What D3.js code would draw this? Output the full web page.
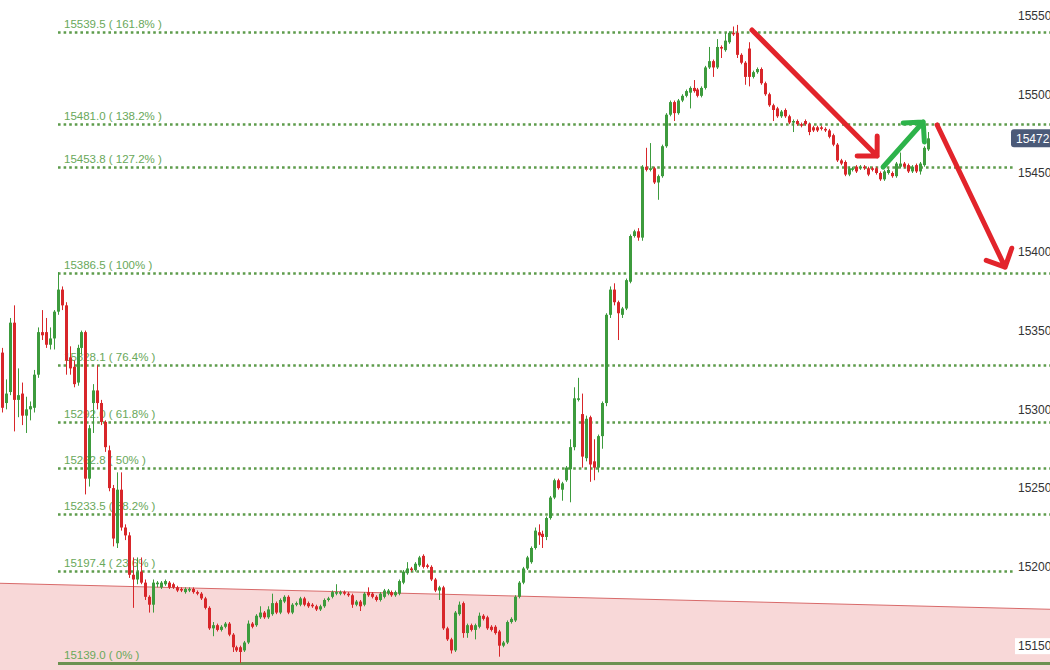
<!DOCTYPE html>
<html>
<head>
<meta charset="utf-8">
<script src="https://cdn.jsdelivr.net/npm/d3@7"></script>
<style>
  body { margin: 0; background: #fff; }
  svg { display: block; font-family: "Liberation Sans", Arial, sans-serif; }
</style>
</head>
<body>
<svg id="chart" width="1050" height="670"></svg>
<script>
// candles, oldest first
const opens = [
  15336,15304,15311,15355,15306,15310,15296,15300,15301,15322,
  15349,15349,15341,15345,15362,15376,15366,15333,15327,15317,
  15339,15349,15256,15304,15312,15304,15292,15274,15250,15215,
  15249,15225,15220,15195,15192,15197,15190,15181,15176,15189,
  15187,15189,15190,15189,15187,15186,15184,15185,15186,15184,
  15183,15180,15174,15161,15163,15160,15162,15164,15157,15149,
  15149,15147,15152,15164,15163,15168,15171,15168,15170,15177,
  15171,15178,15181,15171,15176,15176,15180,15177,15176,15175,
  15173,15175,15179,15181,15183,15183,15184,15183,15182,15176,
  15178,15176,15184,15183,15181,15179,15181,15183,15184,15182,
  15183,15190,15196,15199,15198,15201,15207,15201,15200,15192,
  15185,15187,15161,15154,15147,15170,15177,15158,15163,15160,
  15162,15169,15168,15162,15162,15159,15150,15152,15165,15166,
  15181,15190,15199,15203,15212,15222,15221,15219,15231,15244,
  15255,15249,15255,15262,15276,15306,15297,15269,15295,15267,
  15263,15283,15304,15360,15376,15368,15360,15364,15381,15410,
  15413,15409,15454,15452,15453,15444,15448,15467,15487,15495,
  15488,15496,15499,15501,15504,15503,15499,15504,15517,15521,
  15517,15530,15528,15533,15539,15539,15525,15520,15529,15511,
  15514,15516,15507,15500,15493,15491,15486,15490,15486,15482,
  15483,15481,15483,15481,15479,15479,15479,15478,15477,15474,
  15468,15458,15457,15449,15452,15454,15453,15454,15453,15453,
  15453,15450,15446,15450,15450,15448,15454,15456,15455,15451,
  15455,15451,15455,15465
]
const highs = [
  15339,15319,15358,15366,15326,15317,15308,15305,15325,15352,
  15363,15358,15352,15363,15387,15378,15368,15340,15331,15341,
  15350,15350,15290,15316,15328,15306,15293,15277,15252,15260,
  15260,15227,15222,15206,15206,15206,15192,15182,15192,15191,
  15191,15192,15191,15190,15188,15187,15187,15187,15187,15185,
  15184,15181,15175,15165,15164,15163,15165,15165,15158,15150,
  15150,15153,15166,15165,15170,15175,15172,15175,15183,15178,
  15180,15182,15182,15177,15178,15181,15181,15178,15177,15176,
  15176,15180,15181,15185,15189,15185,15185,15184,15183,15179,
  15179,15184,15187,15184,15182,15184,15186,15186,15185,15185,
  15192,15198,15203,15200,15203,15207,15208,15202,15201,15193,
  15188,15188,15162,15155,15172,15178,15178,15164,15164,15164,
  15171,15170,15169,15163,15163,15160,15153,15166,15168,15182,
  15191,15200,15207,15213,15225,15227,15223,15232,15245,15256,
  15256,15254,15264,15281,15314,15320,15310,15296,15296,15281,
  15284,15305,15361,15378,15380,15369,15365,15383,15411,15414,
  15415,15455,15466,15469,15454,15449,15468,15488,15496,15496,
  15497,15500,15503,15505,15509,15504,15505,15518,15530,15522,
  15535,15531,15539,15540,15543,15544,15526,15521,15533,15515,
  15517,15517,15508,15501,15494,15492,15490,15491,15487,15484,
  15484,15482,15484,15482,15480,15480,15480,15479,15478,15475,
  15469,15459,15458,15454,15454,15455,15455,15455,15454,15454,
  15454,15451,15452,15453,15451,15457,15463,15457,15456,15455,
  15456,15457,15467,15476
]
const lows = [
  15298,15300,15309,15286,15295,15290,15285,15293,15298,15320,
  15344,15339,15338,15338,15360,15363,15322,15322,15314,15315,
  15335,15246,15251,15285,15300,15290,15273,15248,15213,15212,
  15223,15217,15193,15174,15189,15189,15179,15171,15171,15187,
  15186,15188,15186,15186,15184,15184,15183,15184,15183,15182,
  15179,15173,15160,15156,15159,15159,15161,15156,15146,15146,
  15139,15146,15151,15161,15162,15167,15167,15167,15169,15170,
  15170,15177,15170,15170,15175,15175,15175,15174,15174,15172,
  15172,15174,15178,15180,15182,15182,15182,15181,15174,15175,
  15172,15175,15181,15180,15178,15178,15180,15182,15181,15181,
  15182,15189,15195,15197,15197,15200,15199,15199,15191,15184,
  15179,15160,15153,15145,15146,15169,15155,15155,15159,15154,
  15161,15166,15160,15159,15157,15143,15149,15151,15164,15165,
  15180,15189,15198,15202,15211,15214,15212,15217,15230,15243,
  15249,15242,15254,15241,15274,15305,15263,15267,15254,15255,
  15260,15275,15302,15358,15366,15344,15358,15363,15380,15409,
  15407,15407,15451,15451,15443,15433,15447,15466,15486,15483,
  15487,15495,15498,15491,15501,15498,15498,15503,15516,15511,
  15516,15523,15527,15532,15537,15523,15519,15506,15505,15510,
  15513,15506,15499,15492,15483,15485,15485,15485,15481,15476,
  15480,15479,15480,15474,15476,15476,15477,15476,15472,15467,
  15457,15455,15448,15448,15451,15450,15452,15452,15448,15451,
  15449,15445,15445,15449,15447,15447,15453,15453,15450,15450,
  15450,15449,15454,15464
]
const closes = [
  15301,15310,15355,15306,15309,15296,15300,15302,15322,15349,
  15347,15341,15345,15362,15376,15366,15331,15326,15316,15339,
  15349,15256,15288,15312,15304,15292,15276,15250,15218,15249,
  15225,15220,15195,15192,15197,15190,15181,15176,15190,15190,
  15190,15191,15187,15187,15185,15185,15186,15186,15184,15183,
  15180,15174,15161,15163,15160,15162,15164,15157,15149,15147,
  15146,15152,15164,15162,15169,15171,15168,15173,15177,15171,
  15179,15181,15171,15176,15177,15180,15176,15175,15175,15173,
  15175,15179,15180,15184,15184,15184,15183,15182,15176,15178,
  15175,15183,15182,15181,15179,15183,15185,15185,15182,15184,
  15191,15197,15199,15198,15202,15206,15200,15200,15192,15185,
  15187,15161,15154,15147,15171,15176,15158,15163,15160,15163,
  15169,15167,15161,15160,15158,15150,15152,15165,15167,15181,
  15190,15199,15206,15212,15223,15220,15219,15231,15244,15255,
  15250,15253,15263,15276,15307,15307,15270,15294,15265,15263,
  15283,15304,15360,15376,15368,15361,15364,15382,15410,15413,
  15409,15454,15452,15453,15444,15448,15467,15487,15495,15488,
  15496,15499,15502,15504,15502,15499,15504,15517,15521,15517,
  15530,15529,15534,15539,15538,15525,15520,15511,15511,15514,
  15516,15507,15500,15493,15490,15486,15489,15486,15482,15483,
  15481,15480,15481,15476,15477,15477,15478,15477,15473,15468,
  15458,15456,15449,15453,15453,15451,15454,15453,15449,15452,
  15450,15446,15451,15452,15448,15456,15456,15454,15451,15454,
  15451,15456,15466,15472
]

// fibonacci levels
const fibPrices = [15539.5, 15481.0, 15453.8, 15386.5, 15328.1, 15292.0, 15262.8, 15233.5, 15197.4, 15139.0]
const fibPcts = ["161.8%", "138.2%", "127.2%", "100%", "76.4%", "61.8%", "50%", "38.2%", "23.6%", "0%"]

// price axis
const axisTicks = [15150, 15200, 15250, 15300, 15350, 15400, 15450, 15500, 15550]
const lastPrice = 15472

// support zone edge: price at left and right border
const zoneEdge = [15189.6, 15173.1]

// hand-drawn arrows in [candle index, price]
const arrowStarts = [[188.7, 15540.8], [221.7, 15453.8], [235.3, 15480.5]]
const arrowEnds = [[220.2, 15460.8], [231.8, 15482.4], [252.4, 15390.3]]
const arrowDirs = ["down", "up", "down"]

const W = 1050, H = 670
const green = "#3d9b3d", red = "#d8262a"
const fibColor = "#5e9c4c", fibText = "#69a85a"

let svg = d3.select("#chart")

let y = d3.scaleLinear().domain([15139, 15539.5]).range([663, 32])
let x = d3.scaleLinear().domain([0, closes.length - 1]).range([2, 928])

let candles = closes.map((c, i) => ({i, o: opens[i], h: highs[i], l: lows[i], c}))

// support zone
let zoneY0 = y(zoneEdge[0]), zoneY1 = y(zoneEdge[1])
svg.append("path")
    .attr("d", `M 0,${zoneY0} L ${W},${zoneY1} L ${W},${H} L 0,${H} z`)
    .attr("fill", "#f8d8d8")
svg.append("line")
    .attr("x1", 0).attr("y1", zoneY0)
    .attr("x2", W).attr("y2", zoneY1)
    .attr("stroke", "#d86a6a")
    .attr("stroke-width", 1)

// fib levels
let fibs = fibPrices.map((p, i) => ({p, pct: fibPcts[i]}))
let fibG = svg.append("g")
fibG.selectAll("line")
    .data(fibs)
    .join("line")
        .attr("x1", 58)
        .attr("x2", W)
        .attr("y1", d => Math.round(y(d.p)) + 0.5)
        .attr("y2", d => Math.round(y(d.p)) + 0.5)
        .attr("stroke-width", d => d.pct == "0%" ? 3 : 2.6)
        .attr("stroke-dasharray", d => d.pct == "0%" ? null : "2.6,3")
        .attr("stroke", d => d.pct == "0%" ? "#6b9150" : fibColor)
fibG.selectAll("text")
    .data(fibs)
    .join("text")
        .attr("x", 64)
        .attr("y", d => y(d.p) - 4)
        .attr("font-size", 11.5)
        .attr("fill", fibText)
        .text(d => `${d.p.toFixed(1)} ( ${d.pct} )`)

// candles
let cg = svg.append("g")
    .selectAll("g")
    .data(candles)
    .join("g")
        .attr("fill", d => d.c >= d.o ? green : red)
        .attr("stroke", d => d.c >= d.o ? green : red)
cg.append("line")
    .attr("x1", d => Math.round(x(d.i)) + 0.5)
    .attr("x2", d => Math.round(x(d.i)) + 0.5)
    .attr("y1", d => y(d.h))
    .attr("y2", d => y(d.l))
    .attr("stroke-width", 1)
cg.append("rect")
    .attr("x", d => Math.round(x(d.i)) - 1)
    .attr("width", 3)
    .attr("y", d => y(Math.max(d.o, d.c)))
    .attr("height", d => Math.max(1, Math.abs(y(d.o) - y(d.c))))
    .attr("stroke", "none")

// arrows
let arrows = arrowStarts.map((s, i) => ({s, e: arrowEnds[i], dir: arrowDirs[i]}))
function arrowPath(d) {
    let x0 = x(d.s[0]), y0 = y(d.s[1]), x1 = x(d.e[0]), y1 = y(d.e[1])
    let ang = Math.atan2(y0 - y1, x0 - x1)
    let len = 20
    let a1 = ang + Math.PI / 4, a2 = ang - Math.PI / 4
    return `M ${x0},${y0} L ${x1},${y1}` +
        ` M ${x1 + len * Math.cos(a1)},${y1 + len * Math.sin(a1)} L ${x1},${y1}` +
        ` L ${x1 + len * Math.cos(a2)},${y1 + len * Math.sin(a2)}`
}
svg.append("g")
    .selectAll("path")
    .data(arrows)
    .join("path")
        .attr("d", arrowPath)
        .attr("fill", "none")
        .attr("stroke", d => d.dir == "up" ? "#2db34a" : "#e2242b")
        .attr("stroke-width", 5)
        .attr("stroke-linecap", "round")
        .attr("stroke-linejoin", "round")

// right price axis
let axis = svg.append("g")
    .attr("transform", `translate(1017,0)`)
    .call(d3.axisRight(y).tickValues(axisTicks).tickSize(0).tickPadding(1).tickFormat(d3.format("d")))
axis.select(".domain").remove()
axis.selectAll(".tick text")
    .attr("font-size", 12)
    .attr("font-family", "Liberation Sans, Arial, sans-serif")
    .attr("fill", "#333")
axis.selectAll(".tick").insert("rect", "text")
    .attr("x", -2)
    .attr("y", -8)
    .attr("width", 40)
    .attr("height", 16)
    .attr("fill", "#fff")

// last price marker
let lp = svg.append("g").attr("transform", `translate(1011,${y(lastPrice)})`)
lp.append("rect")
    .attr("x", 0).attr("y", -9)
    .attr("width", 45).attr("height", 18)
    .attr("rx", 3)
    .attr("fill", "#4b5a78")
lp.append("text")
    .attr("x", 5).attr("y", 0)
    .attr("dy", "0.35em")
    .attr("font-size", 12)
    .attr("fill", "#fff")
    .text(lastPrice)
</script>
</body>
</html>
